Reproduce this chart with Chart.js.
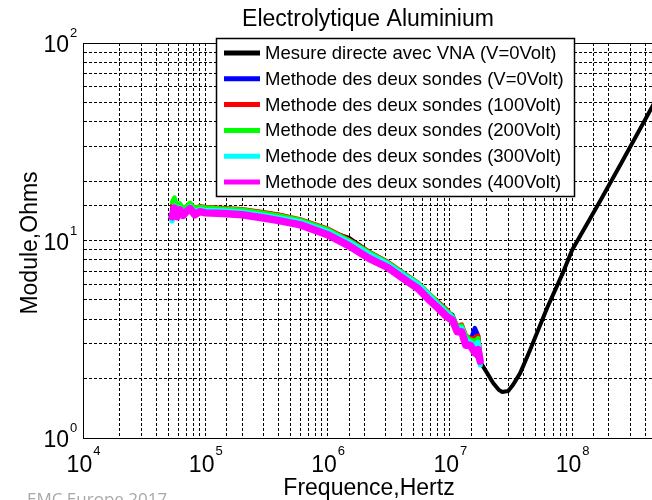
<!DOCTYPE html>
<html>
<head>
<meta charset="utf-8">
<script src="https://cdn.jsdelivr.net/npm/chart.js@4.4.1/dist/chart.umd.min.js"></script>
<style>
  html, body { margin: 0; padding: 0; background: #fff; }
  canvas { display: block; }
</style>
</head>
<body>
<canvas id="impedanceChart" width="652" height="500"></canvas>
<script>
// frequency points (Hz) for the VNA measurement
const fVna = [5.35e4, 1e5, 2e5, 4e5, 7e5, 1e6, 1.5e6, 2.2e6, 3.1e6, 4.5e6, 6.9e6, 9.5e6, 1.21e7, 1.47e7, 1.77e7,
  2.02e7, 2.26e7, 2.5e7, 2.67e7, 3.0e7, 3.29e7, 3.76e7, 4.53e7, 6.24e7, 8.44e7, 1e8, 1.69e8, 2.5e8, 3.5e8, 4.6e8];
const zVna = [14.5, 14.6, 14.2, 13.5, 12.3, 11.2, 10.3, 8.75, 7.7, 6.5, 5.2, 4.3, 3.55, 2.95, 2.43,
  2.13, 1.9, 1.76, 1.71, 1.73, 1.86, 2.13, 2.79, 4.55, 6.9, 8.95, 15.8, 24.4, 35.6, 48.5];

// frequency points (Hz) for the two-probe method
const fSondes = [5.35e4, 5.6e4, 5.9e4, 6.2e4, 6.6e4, 7.0e4, 7.5e4, 8.2e4, 9e4, 1e5, 1.4e5, 2e5, 3e5, 4e5, 6e5, 1e6,
  1.5e6, 2.2e6, 3.1e6, 4.5e6, 5.5e6, 6.9e6, 8e6, 9.5e6, 1.05e7, 1.15e7, 1.25e7, 1.35e7, 1.47e7, 1.6e7, 1.7e7, 1.77e7];
const z0V = [14.2, 15.4, 14.0, 14.8, 14.0, 14.4, 15.0, 14.2, 14.5, 14.4, 14.2, 14.0, 13.5, 13.1, 12.4, 11.2,
  9.8, 8.5, 7.55, 6.4, 5.95, 5.15, 4.75, 4.3, 4.2, 3.6, 3.55, 3.2, 3.1, 3.6, 3.3, 2.5];
const z100V = [15.0, 16.0, 14.4, 15.2, 14.4, 14.8, 15.4, 14.6, 14.9, 14.8, 14.6, 14.4, 13.9, 13.5, 12.8, 11.5,
  10.1, 8.75, 7.8, 6.65, 6.1, 5.3, 4.9, 4.45, 4.1, 3.7, 3.75, 3.3, 3.2, 3.2, 3.3, 2.65];
const z200V = [15.6, 16.5, 14.6, 15.4, 14.5, 14.9, 15.5, 14.6, 14.8, 14.7, 14.5, 14.3, 13.8, 13.4, 12.7, 11.4,
  10.0, 8.7, 7.75, 6.6, 6.1, 5.3, 4.85, 4.4, 4.15, 3.7, 3.7, 3.3, 3.15, 3.1, 3.2, 2.6];
const z300V = [12.6, 14.9, 13.7, 14.6, 13.9, 14.3, 14.8, 14.0, 14.3, 14.2, 14.1, 13.9, 13.4, 13.0, 12.4, 11.1,
  9.8, 8.5, 7.6, 6.5, 6.0, 5.2, 4.75, 4.3, 4.05, 3.6, 3.6, 3.15, 3.05, 2.9, 3.05, 2.35];
const z400V = [13.2, 14.6, 13.2, 14.3, 13.4, 14.0, 14.5, 13.5, 14.0, 13.8, 13.7, 13.5, 13.0, 12.6, 12.0, 10.7,
  9.4, 8.1, 7.3, 6.2, 5.7, 4.95, 4.55, 4.1, 3.95, 3.45, 3.45, 2.95, 2.95, 2.7, 2.8, 2.45];

const seriesLabels = [
  "Mesure directe avec VNA (V=0Volt)",
  "Methode des deux sondes (V=0Volt)",
  "Methode des deux sondes (100Volt)",
  "Methode des deux sondes (200Volt)",
  "Methode des deux sondes (300Volt)",
  "Methode des deux sondes (400Volt)",
];
const seriesColors = ["#000000", "#0000ff", "#ff0000", "#00ff00", "#00ffff", "#ff00ff"];

const xTickValues = [1e4, 1e5, 1e6, 1e7, 1e8];
const xTickExp = ["4", "5", "6", "7", "8"];
const yTickValues = [1, 10, 100];
const yTickExp = ["0", "1", "2"];

const FONT = '"Liberation Sans", Arial, Helvetica, sans-serif';

const toPoints = (xs, ys) => xs.map((x, i) => ({ x: x, y: ys[i] }));

const makeSet = (i, xs, ys, width) => ({
  label: seriesLabels[i],
  data: toPoints(xs, ys),
  borderColor: seriesColors[i],
  borderWidth: width,
  pointRadius: 0,
  fill: false,
  tension: 0,
  borderJoinStyle: "round",
  borderCapStyle: "round",
  order: 5 - i, // last series drawn on top
});

// labels, tick labels, frame and legend box
const decorPlugin = {
  id: "decor",
  afterDraw(chart) {
    const { ctx, chartArea: a, scales } = chart;
    const x = scales.x;
    const y = scales.y;
    ctx.save();

    // top frame
    ctx.strokeStyle = "#000";
    ctx.lineWidth = 1;
    ctx.beginPath();
    ctx.moveTo(a.left, Math.round(a.top) + 0.5);
    ctx.lineTo(a.right, Math.round(a.top) + 0.5);
    ctx.stroke();

    ctx.fillStyle = "#000";
    ctx.textBaseline = "alphabetic";

    // y tick labels 10^n
    yTickValues.forEach((v, i) => {
      const py = y.getPixelForValue(v);
      ctx.font = "23px " + FONT;
      ctx.textAlign = "right";
      ctx.fillText("10", 69, py + 9);
      ctx.font = "13px " + FONT;
      ctx.textAlign = "left";
      ctx.fillText(yTickExp[i], 70, py - 6);
    });

    // x tick labels 10^n
    xTickValues.forEach((v, i) => {
      const px = x.getPixelForValue(v);
      ctx.font = "23px " + FONT;
      const wBase = ctx.measureText("10").width;
      ctx.font = "13px " + FONT;
      const wExp = ctx.measureText(xTickExp[i]).width;
      const start = px - (wBase + wExp) / 2;
      ctx.textAlign = "left";
      ctx.font = "23px " + FONT;
      ctx.fillText("10", start, 472);
      ctx.font = "13px " + FONT;
      ctx.fillText(xTickExp[i], start + wBase + 1, 455);
    });

    // title and axis titles
    ctx.font = "23px " + FONT;
    ctx.textAlign = "center";
    ctx.fillText("Electrolytique Aluminium", 368, 26);
    ctx.fillText("Frequence,Hertz", 369, 495);
    ctx.save();
    ctx.translate(37, 243);
    ctx.rotate(-Math.PI / 2);
    ctx.fillText("Module,Ohms", 0, 0);
    ctx.restore();

    // legend box
    const lx = 216, ly = 38, lw = 358, lh = 158;
    ctx.fillStyle = "#fff";
    ctx.fillRect(lx, ly, lw, lh);
    ctx.strokeStyle = "#000";
    ctx.lineWidth = 1.5;
    ctx.strokeRect(lx + 0.5, ly + 0.5, lw, lh);
    ctx.font = "18.5px " + FONT;
    ctx.textAlign = "left";
    ctx.textBaseline = "middle";
    seriesLabels.forEach((label, i) => {
      const ry = 53 + i * 25.8;
      ctx.strokeStyle = seriesColors[i];
      ctx.lineWidth = 5;
      ctx.beginPath();
      ctx.moveTo(224, ry);
      ctx.lineTo(260, ry);
      ctx.stroke();
      ctx.fillStyle = "#000";
      ctx.fillText(label, 265, ry + 1);
    });

    // watermark cut at the bottom
    ctx.font = '17px "Open Sans", sans-serif';
    ctx.fillStyle = "#a8a8a8";
    ctx.textBaseline = "alphabetic";
    ctx.fillText("EMC Europe 2017", 27, 505);

    ctx.restore();
  },
};

const gridOpts = {
  color: "#000",
  lineWidth: 1,
  drawTicks: false,
};

new Chart(document.getElementById("impedanceChart").getContext("2d"), {
  type: "line",
  data: {
    datasets: [
      makeSet(0, fVna, zVna, 4),
      makeSet(1, fSondes, z0V, 4.5),
      makeSet(2, fSondes, z100V, 4.5),
      makeSet(3, fSondes, z200V, 4.5),
      makeSet(4, fSondes, z300V, 5.5),
      makeSet(5, fSondes, z400V, 7.5),
    ],
  },
  options: {
    responsive: false,
    animation: false,
    events: [],
    layout: { padding: { left: 83, top: 43, right: 0, bottom: 62 } },
    scales: {
      x: {
        type: "logarithmic",
        min: 1e4,
        max: 4.5e8,
        grid: gridOpts,
        border: { display: true, color: "#000", width: 1, dash: [3, 2] },
        ticks: { display: false },
      },
      y: {
        type: "logarithmic",
        min: 1,
        max: 100,
        grid: gridOpts,
        border: { display: true, color: "#000", width: 1, dash: [3, 2] },
        ticks: { display: false },
      },
    },
    plugins: {
      legend: { display: false },
      title: { display: false },
      tooltip: { enabled: false },
    },
  },
  plugins: [decorPlugin],
});
</script>
</body>
</html>
